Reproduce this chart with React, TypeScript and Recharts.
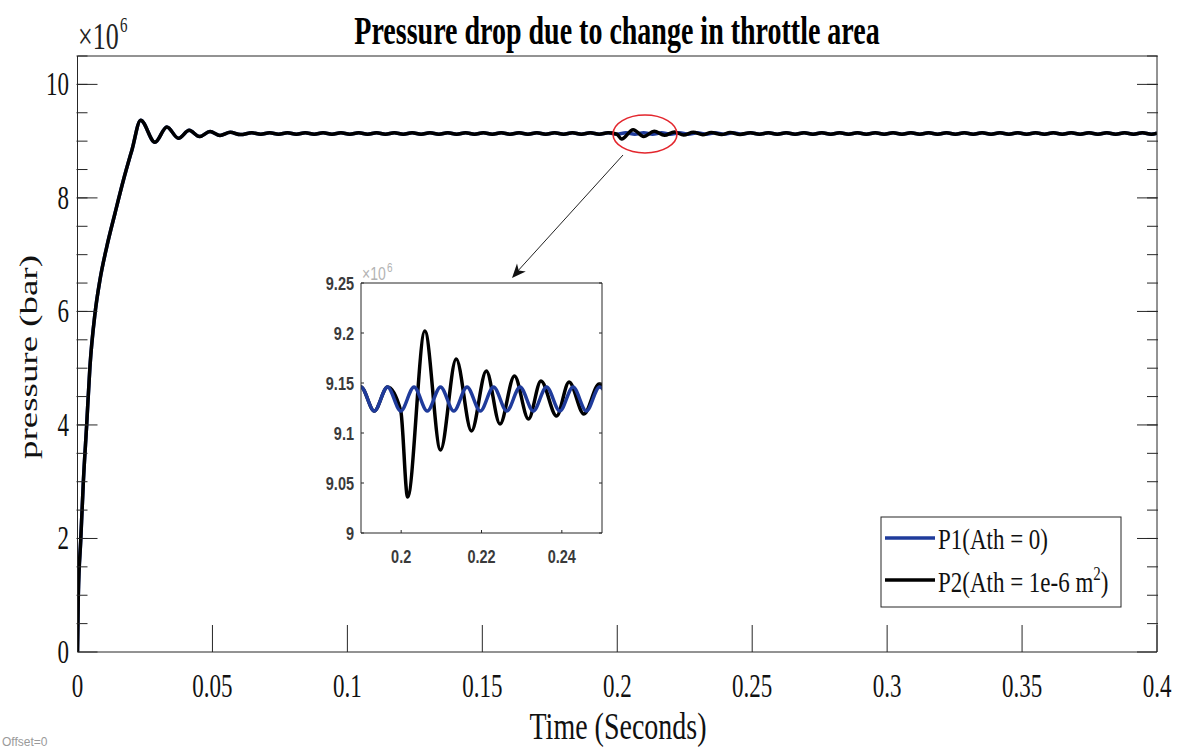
import React from "react";
import { LineChart, Line, XAxis, YAxis } from "recharts";

// time in seconds, pressure in units of 1e6
const RISE_T = [0, 0.0003, 0.0012, 0.0022, 0.0034, 0.0046, 0.0065, 0.0083, 0.0108, 0.0139, 0.017, 0.0202, 0.0234, 0.0287, 0.0331, 0.0374, 0.0414, 0.0452, 0.0491, 0.0528, 0.0566, 0.0604];
const RISE_P = [0, 1.0, 1.97, 3.03, 4.0, 5.02, 5.97, 6.55, 7.13, 7.73, 8.31, 8.85, 9.37, 8.98, 9.25, 9.05, 9.19, 9.08, 9.17, 9.1, 9.155, 9.115];

const RIPPLE_T = [
  0.0646, 0.0679, 0.0712, 0.0745, 0.0778, 0.0811, 0.0844, 0.0877, 0.091, 0.0943,
  0.0976, 0.1009, 0.1042, 0.1075, 0.1108, 0.1141, 0.1174, 0.1207, 0.124, 0.1273,
  0.1306, 0.1339, 0.1372, 0.1405, 0.1438, 0.1471, 0.1504, 0.1537, 0.157, 0.1603,
  0.1636, 0.1669, 0.1702, 0.1735, 0.1768, 0.1801, 0.1834, 0.1867, 0.19, 0.1933,
  0.1966, 0.1999, 0.2032, 0.2065, 0.2098, 0.2131, 0.2164, 0.2197, 0.223, 0.2263,
  0.2296, 0.2329, 0.2362, 0.2395, 0.2428, 0.2461, 0.2494, 0.2527, 0.256, 0.2593,
  0.2626, 0.2659, 0.2692, 0.2725, 0.2758, 0.2791, 0.2824, 0.2857, 0.289, 0.2923,
  0.2956, 0.2989, 0.3022, 0.3055, 0.3088, 0.3121, 0.3154, 0.3187, 0.322, 0.3253,
  0.3286, 0.3319, 0.3352, 0.3385, 0.3418, 0.3451, 0.3484, 0.3517, 0.355, 0.3583,
  0.3616, 0.3649, 0.3682, 0.3715, 0.3748, 0.3781, 0.3814, 0.3847, 0.388, 0.3913,
  0.3946, 0.3979, 0.4,
];
const RIPPLE_P = [
  9.146, 9.122, 9.146, 9.122, 9.146, 9.122, 9.146, 9.122, 9.146, 9.122,
  9.146, 9.122, 9.146, 9.122, 9.146, 9.122, 9.146, 9.122, 9.146, 9.122,
  9.146, 9.122, 9.146, 9.122, 9.146, 9.122, 9.146, 9.122, 9.146, 9.122,
  9.146, 9.122, 9.146, 9.122, 9.146, 9.122, 9.146, 9.122, 9.146, 9.122,
  9.146, 9.122, 9.146, 9.122, 9.146, 9.122, 9.146, 9.122, 9.146, 9.122,
  9.146, 9.122, 9.146, 9.122, 9.146, 9.122, 9.146, 9.122, 9.146, 9.122,
  9.146, 9.122, 9.146, 9.122, 9.146, 9.122, 9.146, 9.122, 9.146, 9.122,
  9.146, 9.122, 9.146, 9.122, 9.146, 9.122, 9.146, 9.122, 9.146, 9.122,
  9.146, 9.122, 9.146, 9.122, 9.146, 9.122, 9.146, 9.122, 9.146, 9.122,
  9.146, 9.122, 9.146, 9.122, 9.146, 9.122, 9.146, 9.122, 9.146, 9.122,
  9.146, 9.122, 9.139,
];

// P2 departs from P1 after the throttle change at t = 0.2 s
const P2_WIN_T = [0.1999, 0.2016, 0.2059, 0.2098, 0.2137, 0.2175, 0.2212, 0.2246, 0.2282, 0.2317, 0.2348, 0.2387, 0.2418, 0.2455, 0.2493];
const P2_WIN_P = [9.122, 9.036, 9.202, 9.083, 9.174, 9.102, 9.162, 9.109, 9.157, 9.114, 9.152, 9.117, 9.151, 9.119, 9.149];

const X_MAJOR = [0, 0.05, 0.1, 0.15, 0.2, 0.25, 0.3, 0.35, 0.4];
const X_MINOR = [
  0, 0.01, 0.02, 0.03, 0.04, 0.05, 0.06, 0.07, 0.08, 0.09, 0.1, 0.11, 0.12, 0.13,
  0.14, 0.15, 0.16, 0.17, 0.18, 0.19, 0.2, 0.21, 0.22, 0.23, 0.24, 0.25, 0.26, 0.27,
  0.28, 0.29, 0.3, 0.31, 0.32, 0.33, 0.34, 0.35, 0.36, 0.37, 0.38, 0.39, 0.4,
];
const Y_MAJOR = [0, 2, 4, 6, 8, 10];
const Y_MINOR = [0.5, 1, 1.5, 2, 2.5, 3, 3.5, 4, 4.5, 5, 5.5, 6, 6.5, 7, 7.5, 8, 8.5, 9, 9.5, 10, 10.5];
const INSET_X = [0.2, 0.22, 0.24];
const INSET_Y = [9, 9.05, 9.1, 9.15, 9.2, 9.25];

const P1_COLOR = "#1f3b9b";
const AX = "#262626";
const SERIF = "'Liberation Serif', 'Times New Roman', serif";
const SANS = "'Liberation Sans', Arial, sans-serif";
const SY = 1.42;

const allT = [...RISE_T, ...RIPPLE_T];
const allP = [...RISE_P, ...RIPPLE_P];
const p1Data = allT.map((t, i) => ({ t, p: allP[i] }));
const p2Data = p1Data
  .filter((d) => d.t <= 0.1966 || d.t >= 0.2527)
  .concat(P2_WIN_T.map((t, i) => ({ t, p: P2_WIN_P[i] })))
  .sort((a, b) => a.t - b.t);
const inWin = (d: { t: number }) => d.t >= 0.1867 && d.t <= 0.2527;
const p1Inset = p1Data.filter(inWin);
const p2Inset = p2Data.filter(inWin);

// tick line only, no label
const NoLabel = () => <g />;

const MainXTick = ({ x, y, payload }: any) => (
  <text transform={`translate(${x},${y}) scale(1,${SY})`} textAnchor="middle" fontFamily={SERIF} fontSize={23} fill="#111">
    {String(payload.value)}
  </text>
);
const MainYTick = ({ x, y, payload }: any) => (
  <text transform={`translate(${x},${y + 11}) scale(1,${SY})`} textAnchor="end" fontFamily={SERIF} fontSize={23} fill="#111">
    {String(payload.value)}
  </text>
);
const InsetXTick = ({ x, y, payload }: any) => (
  <text transform={`translate(${x},${y}) scale(1,1.3)`} textAnchor="middle" fontFamily={SANS} fontWeight="bold" fontSize={14.5} fill="#3a3a3a">
    {String(payload.value)}
  </text>
);
const InsetYTick = ({ x, y, payload }: any) => (
  <text transform={`translate(${x},${y + 6.5}) scale(1,1.3)`} textAnchor="end" fontFamily={SANS} fontWeight="bold" fontSize={14.5} fill="#3a3a3a">
    {String(payload.value)}
  </text>
);

function MainChart() {
  const common = { type: "number" as const, allowDataOverflow: true, interval: 0 as const };
  // every axis is 1px deep, two per side: margins are shrunk by 2px so the plot box stays at 77.5..1157 x 56..652
  return (
    <LineChart width={1178} height={748} margin={{ top: 54, right: 19, bottom: 94, left: 75.5 }}>
      <XAxis {...common} xAxisId="b" dataKey="t" domain={[0, 0.4]} ticks={X_MAJOR} height={1}
        tickSize={-27} tickMargin={72} tick={<MainXTick />} axisLine={{ stroke: AX }} tickLine={{ stroke: AX }} />
      <XAxis {...common} xAxisId="bm" domain={[0, 0.4]} ticks={X_MINOR} height={1}
        tickSize={-14} tick={NoLabel} axisLine={false} tickLine={{ stroke: AX }} />
      <XAxis {...common} xAxisId="t" orientation="top" domain={[0, 0.4]} ticks={X_MAJOR} height={1}
        tickSize={-27} tick={NoLabel} axisLine={{ stroke: AX }} tickLine={{ stroke: AX }} />
      <XAxis {...common} xAxisId="tm" orientation="top" domain={[0, 0.4]} ticks={X_MINOR} height={1}
        tickSize={-14} tick={NoLabel} axisLine={false} tickLine={{ stroke: AX }} />
      <YAxis {...common} yAxisId="l" domain={[0, 10.5]} ticks={Y_MAJOR} width={1}
        tickSize={-20} tickMargin={28.5} tick={<MainYTick />} axisLine={{ stroke: AX }} tickLine={{ stroke: AX }} />
      <YAxis {...common} yAxisId="lm" domain={[0, 10.5]} ticks={Y_MINOR} width={1}
        tickSize={-11} tick={NoLabel} axisLine={false} tickLine={{ stroke: AX }} />
      <YAxis {...common} yAxisId="r" orientation="right" domain={[0, 10.5]} ticks={Y_MAJOR} width={1}
        tickSize={-20} tick={NoLabel} axisLine={{ stroke: AX }} tickLine={{ stroke: AX }} />
      <YAxis {...common} yAxisId="rm" orientation="right" domain={[0, 10.5]} ticks={Y_MINOR} width={1}
        tickSize={-11} tick={NoLabel} axisLine={false} tickLine={{ stroke: AX }} />
      <Line xAxisId="b" yAxisId="l" data={p1Data} dataKey="p" type="monotone" stroke={P1_COLOR}
        strokeWidth={3.5} dot={false} isAnimationActive={false} />
      <Line xAxisId="b" yAxisId="l" data={p2Data} dataKey="p" type="monotone" stroke="#000"
        strokeWidth={3.5} dot={false} isAnimationActive={false} />
    </LineChart>
  );
}

function InsetChart() {
  const common = { type: "number" as const, allowDataOverflow: true, interval: 0 as const };
  return (
    <LineChart width={320} height={320} margin={{ top: 32, right: 17, bottom: 36, left: 60 }}>
      <XAxis {...common} xAxisId="b" dataKey="t" domain={[0.19, 0.25]} ticks={INSET_X} height={1}
        tickSize={-3} tickMargin={33} tick={<InsetXTick />} axisLine={{ stroke: AX }} tickLine={{ stroke: AX }} />
      <XAxis {...common} xAxisId="t" orientation="top" domain={[0.19, 0.25]} ticks={INSET_X} height={1}
        tickSize={-3} tick={NoLabel} axisLine={{ stroke: AX }} tickLine={{ stroke: AX }} />
      <YAxis {...common} yAxisId="l" domain={[9, 9.25]} ticks={INSET_Y} width={1}
        tickSize={-3} tickMargin={10} tick={<InsetYTick />} axisLine={{ stroke: AX }} tickLine={{ stroke: AX }} />
      <YAxis {...common} yAxisId="r" orientation="right" domain={[9, 9.25]} ticks={INSET_Y} width={1}
        tickSize={-3} tick={NoLabel} axisLine={{ stroke: AX }} tickLine={{ stroke: AX }} />
      <Line xAxisId="b" yAxisId="l" data={p2Inset} dataKey="p" type="monotone" stroke="#000"
        strokeWidth={3.5} dot={false} isAnimationActive={false} />
      <Line xAxisId="b" yAxisId="l" data={p1Inset} dataKey="p" type="monotone" stroke={P1_COLOR}
        strokeWidth={3.5} dot={false} isAnimationActive={false} />
    </LineChart>
  );
}

function Overlay() {
  return (
    <svg width={1178} height={748} style={{ position: "absolute", left: 0, top: 0, pointerEvents: "none" }}>
      <text transform={`translate(617,44) scale(1,${SY})`} textAnchor="middle" fontFamily={SERIF} fontWeight="bold" fontSize={28} fill="#000">
        Pressure drop due to change in throttle area
      </text>
      <text transform={`translate(78,49) scale(1,${SY})`} fontFamily={SERIF} fontSize={26} fill="#222">×10</text>
      <text transform={`translate(120,32) scale(1,${SY})`} fontFamily={SERIF} fontSize={15} fill="#222">6</text>
      <text transform="translate(618,739) scale(1,1.35)" textAnchor="middle" fontFamily={SERIF} fontSize={28} fill="#111">
        Time (Seconds)
      </text>
      <text transform={`translate(37,357) scale(1,${SY}) rotate(-90)`} textAnchor="middle" fontFamily={SERIF} fontSize={26} fill="#111">
        pressure (bar)
      </text>

      <ellipse cx={645} cy={134} rx={32} ry={19} fill="none" stroke="#e3262d" strokeWidth={1.6} />
      <line x1={623} y1={155} x2={516} y2={273} stroke="#222" strokeWidth={1} />
      <polygon points="512,278 525.8,271.6 518.7,270.6 517,263.6" fill="#111" />

      <text transform="translate(362,280) scale(1,1.3)" fontFamily={SANS} fontSize={14} fill="#b3b3b3">×10</text>
      <text transform="translate(387,272) scale(1,1.3)" fontFamily={SANS} fontSize={10} fill="#b3b3b3">6</text>

      <rect x={881} y={517} width={240} height={90} fill="#fff" stroke={AX} strokeWidth={1} />
      <line x1={885} y1={538} x2={935} y2={538} stroke={P1_COLOR} strokeWidth={3.5} />
      <line x1={885} y1={580} x2={935} y2={580} stroke="#000" strokeWidth={3.5} />
      <text transform="translate(938,549) scale(1,1.25)" fontFamily={SERIF} fontSize={23} fill="#111">P1(Ath = 0)</text>
      <text transform="translate(938,592) scale(1,1.25)" fontFamily={SERIF} fontSize={23} fill="#111">
        P2(Ath = 1e-6 m<tspan fontSize={15} dy={-10}>2</tspan><tspan dy={10}>)</tspan>
      </text>

      <text x={2} y={746} fontFamily={SANS} fontSize={12} fill="#9a9a9a">Offset=0</text>
    </svg>
  );
}

export default function App() {
  return (
    <div style={{ position: "absolute", left: 0, top: 0, width: 1178, height: 748, background: "#fff" }}>
      <MainChart />
      <div style={{ position: "absolute", left: 300, top: 250, width: 320, height: 320, background: "#fff" }}>
        <InsetChart />
      </div>
      <Overlay />
    </div>
  );
}
